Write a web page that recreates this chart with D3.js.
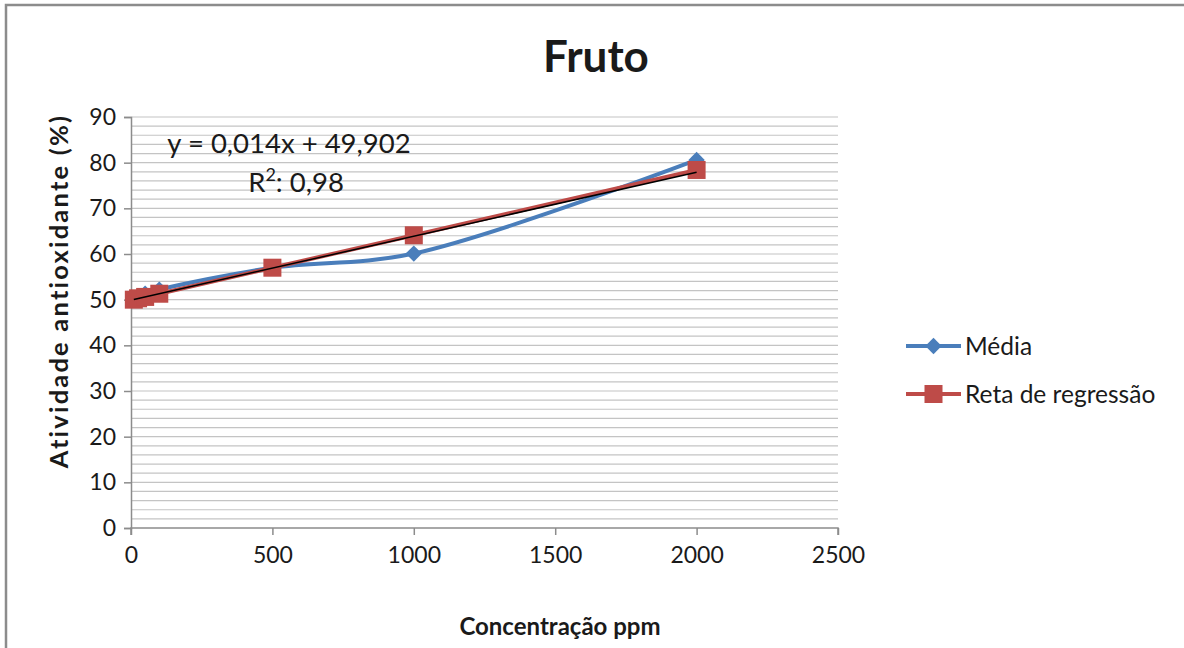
<!DOCTYPE html>
<html>
<head>
<meta charset="utf-8">
<script src="https://cdn.jsdelivr.net/npm/d3@7"></script>
<style>
  body { margin: 0; background: #fff; }
  text { font-family: Lato, "Open Sans", sans-serif; fill: #1a1a1a; }
</style>
</head>
<body>
<svg id="chart" width="1184" height="648"></svg>
<script>
const concentracao = [10, 25, 50, 100, 500, 1000, 2000];
const media = [50.2, 50.6, 51.3, 52.2, 57.0, 60.1, 80.6];
const reta = [50.0, 50.3, 50.6, 51.3, 57.0, 64.1, 78.4];
const xTicks = [0, 500, 1000, 1500, 2000, 2500];
const yTicks = [0, 10, 20, 30, 40, 50, 60, 70, 80, 90];
const equacao = "y = 0,014x + 49,902";

const svg = d3.select("#chart");

// frame of the chart area
svg.append("path")
  .attr("d", "M6,648 V5 H1184")
  .attr("fill", "none")
  .attr("stroke", "#8c8c8c")
  .attr("stroke-width", 2.5);

const x = d3.scaleLinear().domain([0, 2500]).range([131, 838]);
const y = d3.scaleLinear().domain([0, 90]).range([528, 117]);

// gridlines every 2 units
svg.append("g")
  .selectAll("line")
  .data(d3.range(2, 91, 2))
  .join("line")
  .attr("x1", x(0)).attr("x2", x(2500))
  .attr("y1", d => y(d)).attr("y2", d => y(d))
  .attr("stroke", "#c4c4c4")
  .attr("stroke-width", 1.2);

const yAxis = svg.append("g")
  .attr("transform", `translate(${x(0)},0)`)
  .call(d3.axisLeft(y).tickValues(yTicks).tickSize(7).tickPadding(8).tickFormat(d3.format("d")));
const xAxis = svg.append("g")
  .attr("transform", `translate(0,${y(0)})`)
  .call(d3.axisBottom(x).tickValues(xTicks).tickSize(7).tickPadding(12).tickFormat(d3.format("d")));

[xAxis, yAxis].forEach(g => {
  g.select(".domain").attr("stroke", "#8c8c8c").attr("stroke-width", 1.5);
  g.selectAll(".tick line").attr("stroke", "#8c8c8c").attr("stroke-width", 1.5);
  g.selectAll(".tick text").style("font-size", "23px").attr("fill", "#1a1a1a");
});
xAxis.select(".domain").attr("d", `M${x(0)},7V0H${x(2500)}V7`);

const pts = (ys) => concentracao.map((c, i) => [c, ys[i]]);

// Média: smoothed blue line with diamonds
const smooth = d3.line().x(d => x(d[0])).y(d => y(d[1])).curve(d3.curveCatmullRom.alpha(0.5));
svg.append("path")
  .datum(pts(media))
  .attr("d", smooth)
  .attr("fill", "none")
  .attr("stroke", "#4a7ebb")
  .attr("stroke-width", 4);

const diamond = d3.symbol().type(d3.symbolDiamond2).size(170);
svg.append("g")
  .selectAll("path")
  .data(pts(media))
  .join("path")
  .attr("transform", d => `translate(${x(d[0])},${y(d[1])})`)
  .attr("d", diamond)
  .attr("fill", "#4a7ebb");

// Reta de regressão: red line with squares
const straight = d3.line().x(d => x(d[0])).y(d => y(d[1]));
svg.append("path")
  .datum(pts(reta))
  .attr("d", straight)
  .attr("fill", "none")
  .attr("stroke", "#be4b48")
  .attr("stroke-width", 4);

svg.append("g")
  .selectAll("rect")
  .data(pts(reta))
  .join("rect")
  .attr("x", d => x(d[0]) - 9)
  .attr("y", d => y(d[1]) - 9)
  .attr("width", 18)
  .attr("height", 18)
  .attr("fill", "#be4b48");

// linear trendline
const tx = d3.extent(concentracao);
svg.append("line")
  .attr("x1", x(tx[0])).attr("y1", y(0.014 * tx[0] + 49.902))
  .attr("x2", x(tx[1])).attr("y2", y(0.014 * tx[1] + 49.902))
  .attr("stroke", "#000")
  .attr("stroke-width", 1.5);

// equation label
svg.append("text")
  .attr("x", 289).attr("y", 153)
  .attr("text-anchor", "middle")
  .style("font-size", "27.5px")
  .text(equacao);
const r2 = svg.append("text")
  .attr("x", 296).attr("y", 192)
  .attr("text-anchor", "middle")
  .style("font-size", "27.5px");
r2.append("tspan").text("R");
r2.append("tspan").attr("dy", -11).style("font-size", "18px").text("2");
r2.append("tspan").attr("dy", 11).text(": 0,98");

// title and axis titles
svg.append("text")
  .attr("x", 596).attr("y", 72)
  .attr("text-anchor", "middle")
  .style("font-size", "44px")
  .style("font-weight", "bold")
  .text("Fruto");

svg.append("text")
  .attr("transform", "translate(68,291) rotate(-90)")
  .attr("text-anchor", "middle")
  .style("font-size", "25.5px")
  .style("font-weight", "bold")
  .style("letter-spacing", "2.2px")
  .text("Atividade antioxidante (%)");

svg.append("text")
  .attr("x", 560).attr("y", 635)
  .attr("text-anchor", "middle")
  .style("font-size", "24px")
  .style("font-weight", "bold")
  .text("Concentração ppm");

// legend
const legend = [
  { name: "Média", color: "#4a7ebb", marker: "diamond" },
  { name: "Reta de regressão", color: "#be4b48", marker: "square" }
];
const lg = svg.append("g")
  .selectAll("g")
  .data(legend)
  .join("g")
  .attr("transform", (d, i) => `translate(906,${346 + i * 48})`);
lg.append("line")
  .attr("x1", 0).attr("x2", 55)
  .attr("stroke", d => d.color)
  .attr("stroke-width", 4);
lg.filter(d => d.marker === "diamond").append("path")
  .attr("transform", "translate(27.5,0)")
  .attr("d", diamond)
  .attr("fill", d => d.color);
lg.filter(d => d.marker === "square").append("rect")
  .attr("x", 18.5).attr("y", -9).attr("width", 18).attr("height", 18)
  .attr("fill", d => d.color);
lg.append("text")
  .attr("x", 59).attr("y", 0).attr("dy", "0.35em")
  .style("font-size", "24.5px")
  .text(d => d.name);
</script>
</body>
</html>
